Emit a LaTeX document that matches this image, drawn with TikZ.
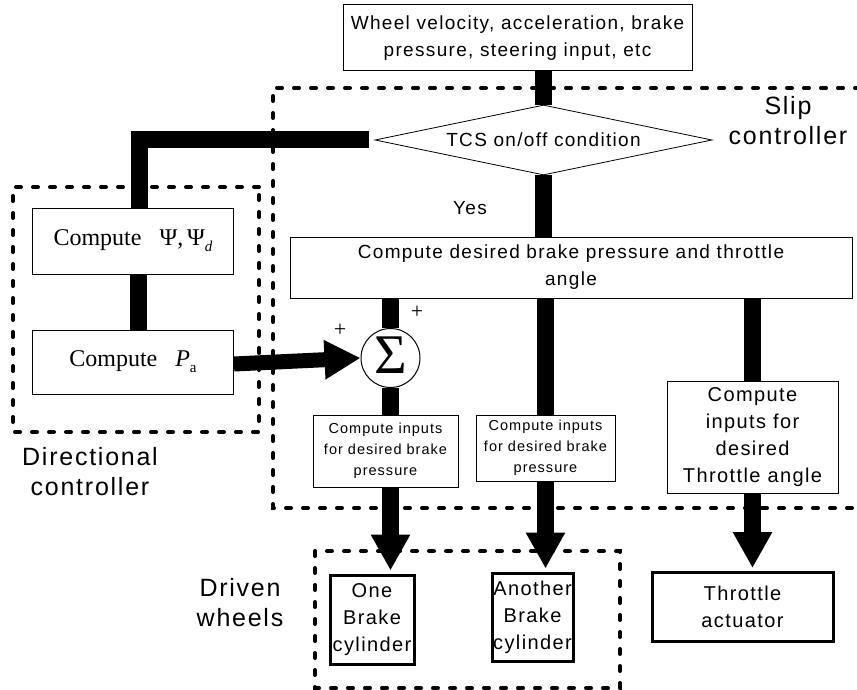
\documentclass[tikz,border=0pt]{standalone}
\usepackage{fontspec}
\setmainfont{Liberation Serif}
\newfontfamily\gul{Liberation Sans}[LetterSpace=7]
\usetikzlibrary{shapes.geometric,arrows.meta}
\begin{document}
\begin{tikzpicture}[x=1pt,y=-1pt,
  box/.style={draw,line width=1pt,inner sep=0pt,align=center,font=\gul\fontsize{19}{27}\selectfont},
  tbox/.style={draw,line width=3pt,inner sep=0pt,align=center,font=\gul\fontsize{20}{27}\selectfont},
  sbox/.style={draw,line width=1pt,inner sep=0pt,align=center,font=\gul\fontsize{14.5}{21}\selectfont},
  mbox/.style={draw,line width=1pt,inner sep=0pt,align=center,font=\fontsize{24}{28}\selectfont},
  bar/.style={line width=17pt},
  arr/.style={line width=17pt,-{Triangle[width=37pt,length=36pt]}},
  grp/.style={line width=4pt,dash pattern=on 5pt off 12pt,line cap=round},
  lab/.style={align=center,font=\gul\fontsize{25}{30}\selectfont}]
\useasboundingbox (0,0) rectangle (857,690);
% groups
\draw[grp] (860,88) -- (273,88) -- (273,508) -- (860,508);
\draw[grp] (259,187) -- (13,187) -- (13,432) -- (259,432) -- cycle;
\draw[grp] (315,551) rectangle (620,688);
% nodes
\node[box,minimum width=349pt,minimum height=66pt] (top) at (517.5,38) {Wheel velocity, acceleration, brake\\pressure, steering input, etc};
\node[draw,line width=0.8pt,diamond,shape aspect=4.8,minimum width=337pt,minimum height=70pt,inner sep=0pt] (tcs) at (543.5,140) {};
\node[font=\gul\fontsize{19}{27}\selectfont] (tcst) at (tcs.center) {TCS on/off condition};
\node[mbox,minimum width=201pt,minimum height=66pt] (psi) at (133,241) {Compute\ \ \ Ψ,\,Ψ\raisebox{-0.25em}{\fontsize{15}{15}\selectfont\itshape d}};
\node[mbox,minimum width=201pt,minimum height=64pt] (pa) at (133,362) {Compute\ \ \ \textit{P}\raisebox{-0.25em}{\fontsize{15}{15}\selectfont a}};
\node[box,minimum width=562pt,minimum height=61pt] (des) at (571,267.5) {Compute desired brake pressure and throttle\\angle};
\node[draw,line width=1pt,ellipse,minimum width=59pt,minimum height=59pt,inner sep=0pt] (sum) at (390.5,358) {};
\node[font=\fontsize{56}{56}\selectfont,inner sep=0pt] (sig) at ([yshift=3pt]sum.center) {Σ};
\node[sbox,minimum width=145pt,minimum height=72pt] (cb1) at (385.5,451) {Compute inputs\\for desired brake\\pressure};
\node[sbox,minimum width=139pt,minimum height=66pt] (cb2) at (545.5,448) {Compute inputs\\for desired brake\\pressure};
\node[tbox,line width=1pt,minimum width=171pt,minimum height=112pt] (cth) at (752.5,437) {Compute\\inputs for\\desired\\Throttle angle};
\node[tbox,minimum width=84pt,minimum height=89pt] (one) at (372,619.5) {One\\Brake\\cylinder};
\node[tbox,minimum width=81pt,minimum height=88pt] (ano) at (532.5,617) {Another\\Brake\\cylinder};
\node[tbox,minimum width=181pt,minimum height=69pt] (act) at (742.5,607) {Throttle\\actuator};
% labels
\node[lab] (slip) at (788,121) {Slip\\controller};
\node[lab] (dirc) at (90,472) {Directional\\controller};
\node[lab] (drv) at (240,603) {Driven\\wheels};
\node[font=\gul\fontsize{19}{27}\selectfont] (yes) at (470,208) {Yes};
\node[font=\fontsize{22}{22}\selectfont] (p1) at (340,330) {+};
\node[font=\fontsize{22}{22}\selectfont] (p2) at (417,312) {+};
% connectors
\draw[bar] (tcs.north |- top.south) -- (tcs.north);
\draw[bar] (tcs.south) -- (tcs.south |- des.north);
\draw[bar,shorten <=6pt] (tcs.west) -| ([xshift=6pt]psi.north);
\draw[bar] ([xshift=5pt]psi.south) -- ([xshift=5pt]pa.north);
\draw[bar] (sum.north |- des.south) -- (sum.north);
\draw[bar] (sum.south) -- (sum.south |- cb1.north);
\draw[bar] (cb2.north |- des.south) -- (cb2.north);
\draw[bar] (cth.north |- des.south) -- (cth.north);
\draw[line width=15pt,-{Triangle[width=37pt,length=36pt]}] ([yshift=-2pt]pa.east) -- (sum.west);
\draw[arr,shorten >=3pt] (sum.south |- cb1.south) -- (sum.south |- one.north);
\draw[arr,shorten >=3pt] (cb2.south) -- (cb2.south |- ano.north);
\draw[arr,shorten >=3pt] (cth.south) -- (cth.south |- act.north);
\end{tikzpicture}
\end{document}
